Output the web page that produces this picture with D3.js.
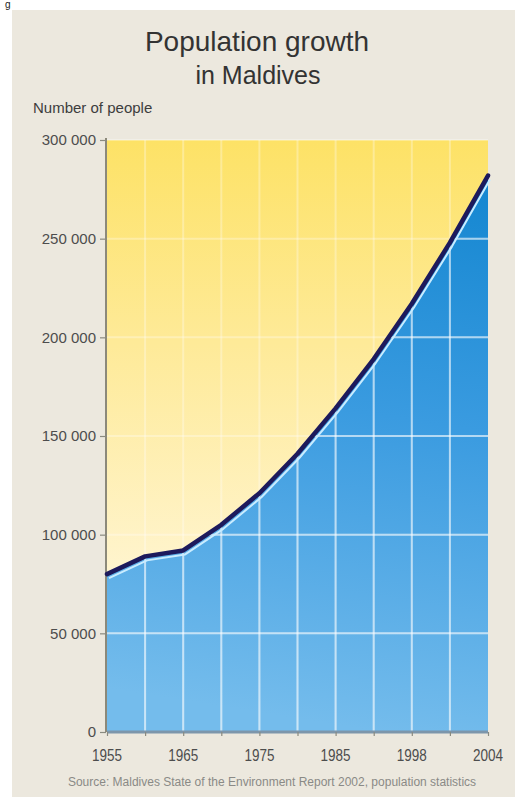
<!DOCTYPE html>
<html>
<head>
<meta charset="utf-8">
<script src="https://cdn.jsdelivr.net/npm/d3@7"></script>
<style>
  html, body { margin: 0; padding: 0; background: #ffffff; }
  svg { display: block; }
</style>
</head>
<body>
<svg id="chart" width="515" height="797"></svg>
<script>
// ---- data ----
const years = [1955, 1960, 1965, 1970, 1975, 1980, 1985, 1990, 1995, 2000, 2004];
const population = [80000, 89000, 92000, 105000, 121000, 141000, 164000, 189000, 217000, 248000, 282000];
const yTickValues = [0, 50000, 100000, 150000, 200000, 250000, 300000];
const xLabelYears = [1955, 1965, 1975, 1985, 1995, 2004];
const xLabelTexts = ["1955", "1965", "1975", "1985", "1998", "2004"];
const titleText = "Population growth";
const subtitleText = "in Maldives";
const yAxisTitle = "Number of people";
const sourceText = "Source: Maldives State of the Environment Report 2002, population statistics";

const data = years.map((yr, i) => ({ year: yr, value: population[i] }));

// ---- layout ----
const W = 515, H = 797;
const plot = { left: 107, right: 488, top: 140, bottom: 732 };

const svg = d3.select("#chart");
const defs = svg.append("defs");

// panel background
svg.append("rect").attr("x", 12).attr("y", 10).attr("width", W - 12).attr("height", H - 10)
  .attr("fill", "#ece8de");

// small glyph at top-left (remnant of a cropped caption)
svg.append("text").attr("x", 5).attr("y", 8).text("g")
  .attr("font-family", "Liberation Sans, Arial, sans-serif").attr("font-size", 10).attr("fill", "#222");

const x = d3.scalePoint().domain(years).range([plot.left, plot.right]);
const y = d3.scaleLinear().domain([0, 300000]).range([plot.bottom, plot.top]);

// gradients
const yg = defs.append("linearGradient").attr("id", "yellowGrad")
  .attr("gradientUnits", "userSpaceOnUse").attr("x1", 0).attr("y1", plot.top).attr("x2", 0).attr("y2", 590);
yg.append("stop").attr("offset", "0%").attr("stop-color", "#fde266");
yg.append("stop").attr("offset", "45%").attr("stop-color", "#feea98");
yg.append("stop").attr("offset", "100%").attr("stop-color", "#fff5d2");

const bg = defs.append("linearGradient").attr("id", "blueGrad")
  .attr("gradientUnits", "userSpaceOnUse").attr("x1", 470).attr("y1", 170).attr("x2", 380).attr("y2", plot.bottom);
bg.append("stop").attr("offset", "0%").attr("stop-color", "#1386d0");
bg.append("stop").attr("offset", "45%").attr("stop-color", "#3a9be0");
bg.append("stop").attr("offset", "100%").attr("stop-color", "#74bcec");

// yellow background of plot
svg.append("rect").attr("x", plot.left).attr("y", plot.top)
  .attr("width", plot.right - plot.left).attr("height", plot.bottom - plot.top)
  .attr("fill", "url(#yellowGrad)");

// blue area
const area = d3.area().x(d => x(d.year)).y0(y(0)).y1(d => y(d.value));
svg.append("path").datum(data).attr("d", area).attr("fill", "url(#blueGrad)");

defs.append("clipPath").attr("id", "areaClip")
  .append("path").datum(data).attr("d", area);

// gridlines (faint over everything, stronger inside blue)
function drawGrid(g, opacity) {
  g.selectAll("line.h").data(yTickValues.filter(v => v > 0)).join("line")
    .attr("x1", plot.left).attr("x2", plot.right)
    .attr("y1", d => y(d)).attr("y2", d => y(d))
    .attr("stroke", "#ffffff").attr("stroke-width", 2).attr("opacity", opacity);
  g.selectAll("line.v").data(years.slice(1, -1)).join("line")
    .attr("x1", d => x(d)).attr("x2", d => x(d))
    .attr("y1", plot.top).attr("y2", plot.bottom)
    .attr("stroke", "#ffffff").attr("stroke-width", 2).attr("opacity", opacity);
}
drawGrid(svg.append("g"), 0.3);
drawGrid(svg.append("g").attr("clip-path", "url(#areaClip)"), 0.45);

// y axis
const yAxis = d3.axisLeft(y).tickValues(yTickValues).tickSize(6).tickPadding(4)
  .tickFormat(d => d3.format(",")(d).replace(/,/g, " "));
const yG = svg.append("g").attr("transform", `translate(${plot.left - 1},0)`).call(yAxis);
yG.select(".domain").attr("stroke", "#6d6a58").attr("stroke-width", 1.5)
  .attr("d", `M0,${plot.top - 2}V${plot.bottom}`);
yG.selectAll(".tick line").attr("stroke", "#8a8a80").attr("stroke-width", 1.2);
yG.selectAll(".tick text").attr("font-family", "Liberation Sans, Arial, sans-serif")
  .attr("font-size", 15).attr("fill", "#4d4d4d");

// x axis
const xAxis = d3.axisBottom(x).tickSize(4).tickFormat("");
const xG = svg.append("g").attr("transform", `translate(0,${plot.bottom})`).call(xAxis);
xG.select(".domain").attr("stroke", "#7d96ab").attr("stroke-width", 3)
  .attr("d", `M${plot.left},0H${plot.right}`);
xG.selectAll(".tick line").attr("stroke", "#8a8a80").attr("stroke-width", 1.2);

svg.append("g").selectAll("text").data(xLabelYears).join("text")
  .attr("x", d => x(d)).attr("y", 761)
  .attr("text-anchor", "middle")
  .attr("font-family", "Liberation Sans, Arial, sans-serif")
  .attr("font-size", 17).attr("fill", "#4d4d4d")
  .attr("textLength", 30).attr("lengthAdjust", "spacingAndGlyphs")
  .text((d, i) => xLabelTexts[i]);

// lines
const line = d3.line().x(d => x(d.year)).y(d => y(d.value));
svg.append("path").datum(data).attr("d", line)
  .attr("transform", "translate(2,4)")
  .attr("fill", "none").attr("stroke", "#c9ecff").attr("stroke-width", 2)
  .attr("stroke-linejoin", "round");
svg.append("path").datum(data).attr("d", line)
  .attr("fill", "none").attr("stroke", "#1d1a5c").attr("stroke-width", 4.5)
  .attr("stroke-linejoin", "round").attr("stroke-linecap", "round");

// titles
svg.append("text").attr("x", 257).attr("y", 51).attr("text-anchor", "middle")
  .attr("font-family", "Liberation Sans, Arial, sans-serif").attr("font-size", 28)
  .attr("fill", "#333333").text(titleText);
svg.append("text").attr("x", 258).attr("y", 84).attr("text-anchor", "middle")
  .attr("font-family", "Liberation Sans, Arial, sans-serif").attr("font-size", 25)
  .attr("fill", "#333333").text(subtitleText);
svg.append("text").attr("x", 33).attr("y", 113)
  .attr("font-family", "Liberation Sans, Arial, sans-serif").attr("font-size", 15)
  .attr("fill", "#3d3d3d").text(yAxisTitle);

// source
svg.append("text").attr("x", 272).attr("y", 786).attr("text-anchor", "middle")
  .attr("font-family", "Liberation Sans, Arial, sans-serif").attr("font-size", 12)
  .attr("fill", "#8a8a86").text(sourceText);
</script>
</body>
</html>
